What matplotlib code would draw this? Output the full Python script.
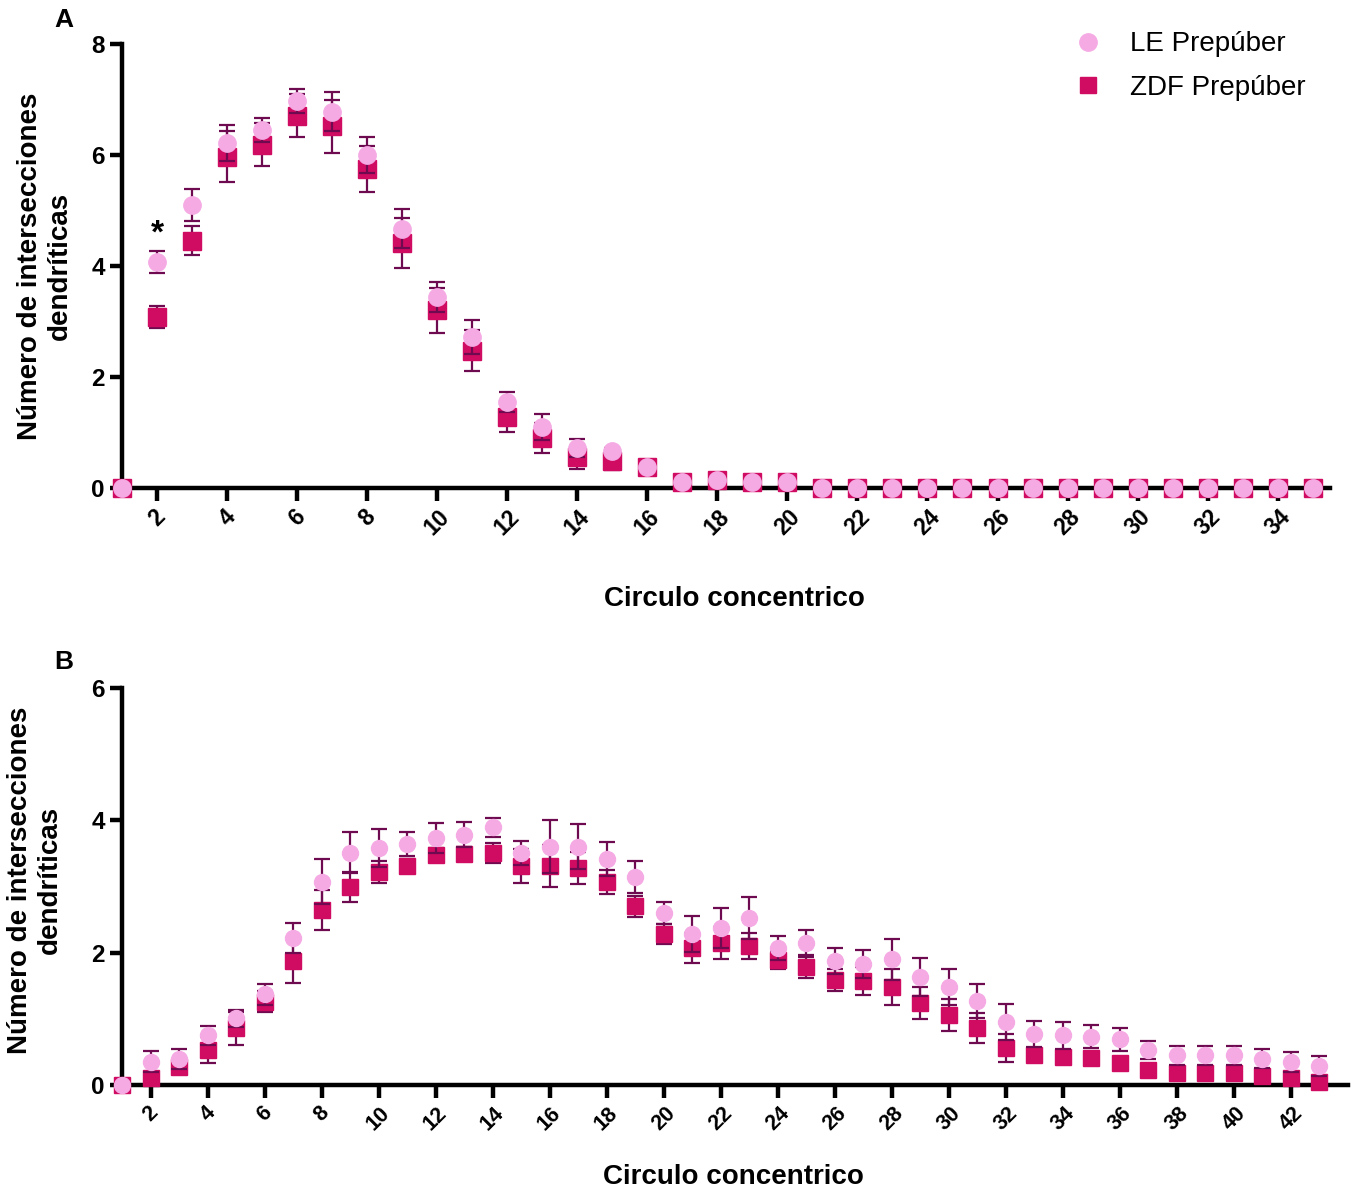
import numpy as np
import matplotlib

matplotlib.use("Agg")
import matplotlib.pyplot as plt
from matplotlib.lines import Line2D

plt.rcParams['font.family'] = ['Liberation Sans', 'DejaVu Sans']

# Panel A: concentric circles 1..35
circles_a = np.arange(1, 36)
le_a = [0, 4.07, 5.1, 6.22, 6.45, 6.97, 6.78, 6.0, 4.67, 3.45, 2.72, 1.55, 1.1, 0.72, 0.67,
        0.37, 0.1, 0.14, 0.1, 0.1] + [0] * 15
le_a_sem = [0, 0.2, 0.29, 0.32, 0.22, 0.22, 0.35, 0.32, 0.35, 0.27, 0.3, 0.18, 0.23, 0.16, 0.05,
            0.03, 0, 0, 0, 0] + [0] * 15
zdf_a = [0, 3.08, 4.46, 5.97, 6.19, 6.71, 6.52, 5.75, 4.41, 3.2, 2.47, 1.28, 0.9, 0.55, 0.49,
         0.37, 0.1, 0.14, 0.1, 0.1] + [0] * 15
zdf_a_sem = [0, 0.2, 0.27, 0.46, 0.38, 0.39, 0.48, 0.42, 0.45, 0.4, 0.37, 0.28, 0.27, 0.2, 0.16,
             0.03, 0, 0, 0, 0] + [0] * 15

# Panel B: concentric circles 1..43
circles_b = np.arange(1, 44)
le_b = [0, 0.35, 0.39, 0.75, 1.01, 1.37, 2.22, 3.07, 3.51, 3.58, 3.64, 3.73, 3.78, 3.89, 3.51,
        3.6, 3.6, 3.41, 3.14, 2.6, 2.28, 2.37, 2.52, 2.07, 2.14, 1.87, 1.83, 1.9, 1.63, 1.48,
        1.27, 0.95, 0.77, 0.75, 0.73, 0.69, 0.53, 0.45, 0.45, 0.45, 0.4, 0.35, 0.29]
le_b_sem = [0, 0.16, 0.15, 0.14, 0.13, 0.16, 0.23, 0.34, 0.31, 0.29, 0.18, 0.23, 0.19, 0.14, 0.18,
            0.4, 0.34, 0.26, 0.24, 0.17, 0.27, 0.3, 0.32, 0.18, 0.2, 0.2, 0.21, 0.31, 0.29, 0.27,
            0.26, 0.27, 0.2, 0.2, 0.17, 0.17, 0.14, 0.14, 0.14, 0.14, 0.14, 0.15, 0.15]
zdf_b = [0, 0.1, 0.27, 0.53, 0.86, 1.26, 1.87, 2.64, 2.99, 3.22, 3.31, 3.48, 3.49, 3.51, 3.31,
         3.31, 3.28, 3.07, 2.7, 2.28, 2.07, 2.14, 2.1, 1.89, 1.79, 1.59, 1.57, 1.48, 1.24, 1.06,
         0.86, 0.56, 0.45, 0.43, 0.41, 0.33, 0.22, 0.18, 0.18, 0.18, 0.14, 0.1, 0.05]
zdf_b_sem = [0, 0.08, 0.07, 0.2, 0.25, 0.16, 0.33, 0.3, 0.22, 0.17, 0.1, 0.1, 0.1, 0.15, 0.26,
             0.32, 0.24, 0.18, 0.16, 0.15, 0.23, 0.24, 0.2, 0.14, 0.17, 0.17, 0.21, 0.27, 0.24, 0.24,
             0.23, 0.21, 0.08, 0.07, 0.07, 0.04, 0.04, 0.04, 0.04, 0.04, 0.04, 0.04, 0.04]

LE_COLOR = '#F5AAE4'
ZDF_COLOR = '#D00B62'
ERR_COLOR = '#6E0A50'


def draw_panel(ax, x, le, le_sem, zdf, zdf_sem, ms):
    ax.errorbar(x, zdf, yerr=zdf_sem, fmt='s', ms=ms, color=ZDF_COLOR, mec=ZDF_COLOR,
                ecolor=ERR_COLOR, elinewidth=1.6, capsize=6, capthick=1.6,
                clip_on=False, zorder=3)
    ax.errorbar(x, le, yerr=le_sem, fmt='o', ms=ms, color=LE_COLOR, mec=LE_COLOR,
                ecolor=ERR_COLOR, elinewidth=1.6, capsize=6, capthick=1.6,
                clip_on=False, zorder=4)
    for side in ['top', 'right']:
        ax.spines[side].set_visible(False)
    for side in ['left', 'bottom']:
        ax.spines[side].set_linewidth(3.2)
    ax.tick_params(width=3.2, length=9, labelsize=17.5)
    ax.set_ylabel('Número de intersecciones\ndendríticas', fontsize=20, fontweight='bold',
                  multialignment='center')
    ax.set_xlabel('Circulo concentrico', fontsize=20, fontweight='bold')


fig = plt.figure(figsize=(13.59, 11.93), dpi=100)

# panel A
ax1 = fig.add_axes([0.0898, 0.591, 0.889, 0.372])
draw_panel(ax1, circles_a, le_a, le_a_sem, zdf_a, zdf_a_sem, 12.5)
ax1.set_xlim(1, 35.5)
ax1.set_ylim(0, 8)
ax1.set_xticks(np.arange(2, 35, 2))
ax1.set_yticks(np.arange(0, 9, 2))
ax1.set_xticklabels([str(v) for v in np.arange(2, 35, 2)], rotation=45, fontsize=16.5,
                    fontweight='bold', ha='center', va='top')
for lbl in ax1.get_yticklabels():
    lbl.set_fontweight('bold')
ax1.xaxis.set_label_coords(0.507, -0.222)
ax1.yaxis.set_label_coords(-0.041, 0.5)
ax1.text(circles_a[1], le_a[1] + le_a_sem[1] + 0.03, '*', ha='center', va='bottom',
         fontsize=24, fontweight='bold')
legend_handles = [
    Line2D([], [], ls='none', marker='o', ms=12.5, color=LE_COLOR, label='LE Prepúber'),
    Line2D([], [], ls='none', marker='s', ms=11, color=ZDF_COLOR, label='ZDF Prepúber'),
]
ax1.legend(handles=legend_handles, loc='upper right', bbox_to_anchor=(1.0, 1.085),
           frameon=False, fontsize=20, handletextpad=0.9, labelspacing=0.62,
           handlelength=1.2)
fig.text(0.047, 0.983, 'A', fontsize=19, fontweight='bold', va='center', ha='center')

# panel B
ax2 = fig.add_axes([0.0898, 0.0905, 0.902, 0.333])
draw_panel(ax2, circles_b, le_b, le_b_sem, zdf_b, zdf_b_sem, 11.5)
ax2.set_xlim(1, 44)
ax2.set_ylim(0, 6)
ax2.set_xticks(np.arange(2, 43, 2))
ax2.set_yticks(np.arange(0, 7, 2))
ax2.set_xticklabels([str(v) for v in np.arange(2, 43, 2)], rotation=45, fontsize=15.5,
                    fontweight='bold', ha='center', va='top')
for lbl in ax2.get_yticklabels():
    lbl.set_fontweight('bold')
ax2.xaxis.set_label_coords(0.499, -0.2)
ax2.yaxis.set_label_coords(-0.048, 0.516)
fig.text(0.047, 0.445, 'B', fontsize=19, fontweight='bold', va='center', ha='center')

fig.savefig('out.png', dpi=100)
